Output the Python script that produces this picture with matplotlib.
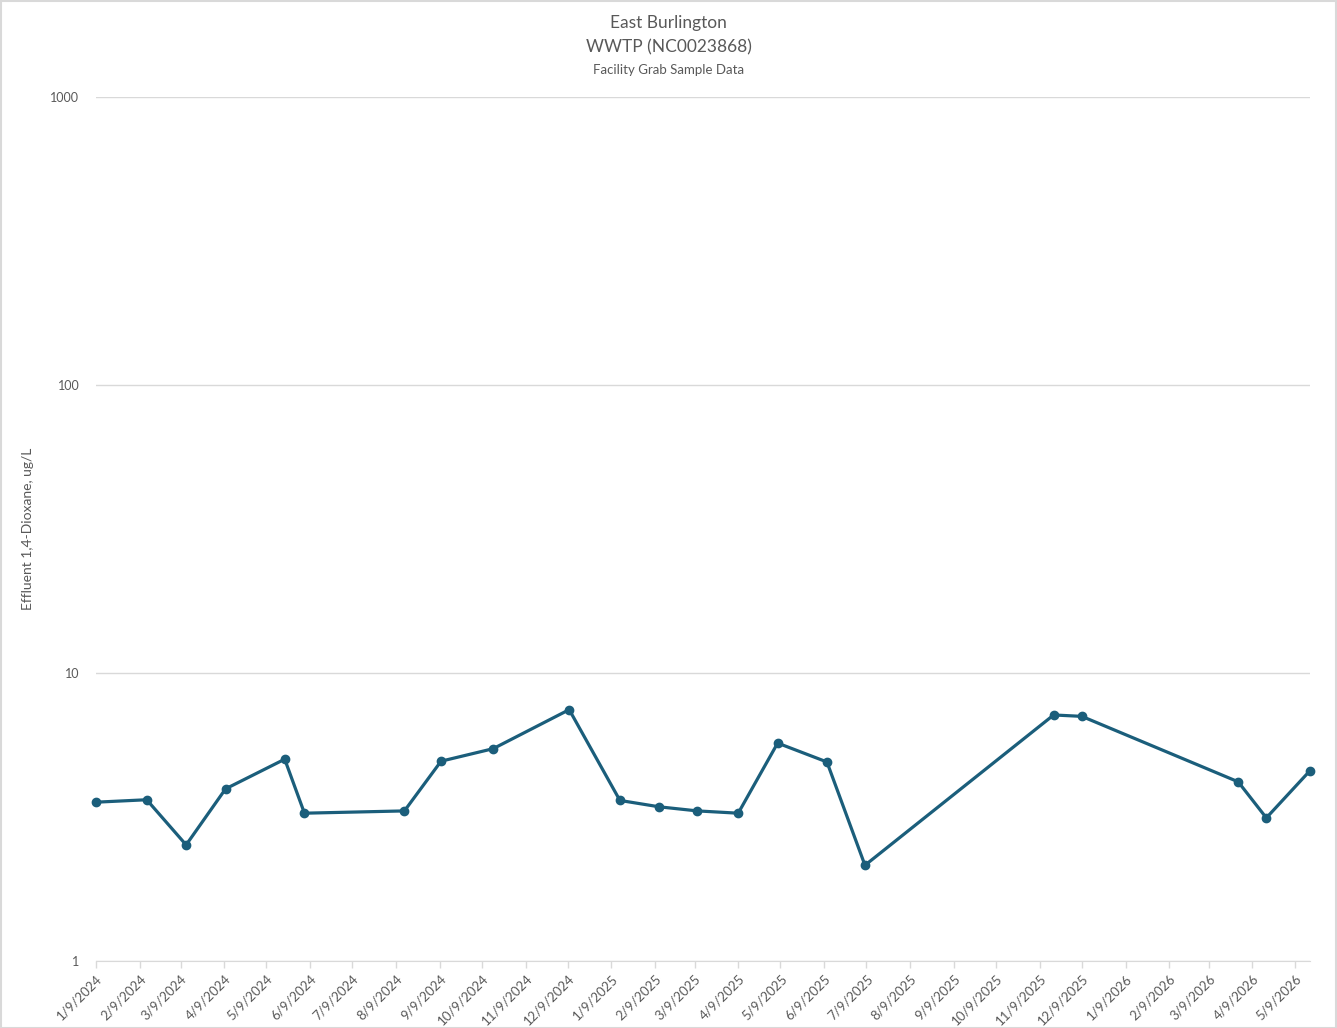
import numpy as np
import pandas as pd
import matplotlib
matplotlib.use("Agg")
import matplotlib.pyplot as plt
from matplotlib.patches import Rectangle

plt.rcParams['font.family'] = ['Lato', 'DejaVu Sans']

# sample dates and results
sample_dates = pd.to_datetime([
    "2024-01-09", "2024-02-14", "2024-03-13", "2024-04-10", "2024-05-22",
    "2024-06-05", "2024-08-15", "2024-09-10", "2024-10-17", "2024-12-10",
    "2025-01-15", "2025-02-12", "2025-03-11", "2025-04-09", "2025-05-07",
    "2025-06-11", "2025-07-08", "2025-11-19", "2025-12-09", "2026-03-30",
    "2026-04-19", "2026-05-20",
])
dioxane = [3.56, 3.63, 2.53, 3.96, 5.02,
           3.26, 3.32, 4.94, 5.46, 7.46,
           3.61, 3.43, 3.32, 3.26, 5.71,
           4.91, 2.15, 7.15, 7.07, 4.19,
           3.14, 4.58]

tick_dates = pd.date_range("2024-01-01", "2026-05-01", freq="MS") + pd.Timedelta(days=8)
tick_labels = [f"{d.month}/{d.day}/{d.year}" for d in tick_dates]

title_lines = ["East Burlington", "WWTP (NC0023868)"]
subtitle = "Facility Grab Sample Data"
y_label = "Effluent 1,4-Dioxane, ug/L"

line_color = "#1b5e7b"
text_color = "#595959"
grid_color = "#d9d9d9"

fig = plt.figure(figsize=(13.37, 10.28), dpi=100)
W, H = 1337, 1028
ax = fig.add_axes([96 / W, 1 - 961 / H, (1310 - 96) / W, (961 - 97) / H])

ax.plot(sample_dates, dioxane, color=line_color, linewidth=2.3,
        marker="o", markersize=6, zorder=3, clip_on=False)

ax.set_yscale("log")
ax.set_ylim(1, 1000)
ax.set_yticks([1, 10, 100, 1000])
ax.set_yticklabels(["1", "10", "100", "1000"])
ax.yaxis.set_minor_locator(matplotlib.ticker.NullLocator())
ax.grid(axis="y", color=grid_color, linewidth=1)
ax.set_axisbelow(True)

ax.set_xlim(sample_dates[0], sample_dates[-1])
ax.set_xticks(tick_dates)
ax.set_xticklabels(tick_labels, rotation=45, ha="right", rotation_mode="anchor")
ax.xaxis.set_minor_locator(matplotlib.ticker.NullLocator())

for s in ["top", "right", "left"]:
    ax.spines[s].set_visible(False)
ax.spines["bottom"].set_color(grid_color)
ax.tick_params(axis="x", colors=text_color, labelsize=9.5, length=5, width=1,
               color=grid_color, pad=3)
ax.tick_params(axis="y", colors=text_color, labelsize=9, length=0, pad=12)

ax.set_ylabel(y_label, color=text_color, fontsize=10)
ax.yaxis.set_label_coords(-62 / (1310 - 96), 0.5)

fig.text(0.5, 1 - 23 / H, title_lines[0], ha="center", va="center",
         fontsize=12.5, color=text_color)
fig.text(0.5, 1 - 47 / H, title_lines[1], ha="center", va="center",
         fontsize=12.5, color=text_color)
fig.text(0.5, 1 - 70 / H, subtitle, ha="center", va="center",
         fontsize=9.5, color=text_color)

fig.patches.append(Rectangle((0.5 / W, 0.5 / H), 1 - 1.5 / W, 1 - 1.5 / H,
                             transform=fig.transFigure, fill=False,
                             edgecolor=grid_color, linewidth=1.5))

fig.savefig("out.png", dpi=100)
